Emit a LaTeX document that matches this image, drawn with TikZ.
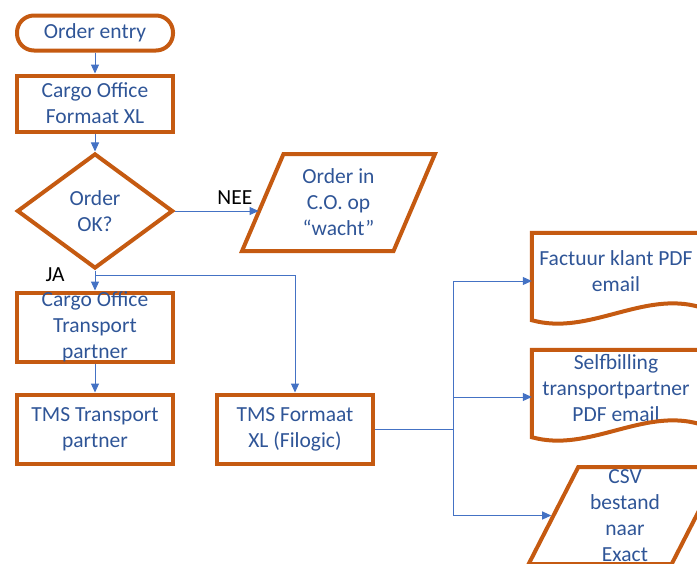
\documentclass[tikz,border=0pt]{standalone}
\usepackage{fontspec}
\setmainfont{Carlito}
\usetikzlibrary{shapes.geometric, arrows.meta, positioning, calc}
\definecolor{boxorange}{HTML}{C55A11}
\definecolor{txtblue}{HTML}{2F5597}
\definecolor{lineblue}{HTML}{4472C4}

\begin{document}
\begin{tikzpicture}[
    x=1pt, y=-1pt,
    every node/.style={font=\fontsize{21.5}{26}\selectfont},
    box/.style={rectangle, draw=boxorange, line width=4pt, text=txtblue, minimum width=156pt, minimum height=69pt, inner sep=0pt, align=center},
    term/.style={box, rounded corners=17pt, minimum height=35pt},
    decision/.style={diamond, draw=boxorange, line width=4pt, text=txtblue, minimum width=156pt, minimum height=115pt, inner sep=0pt, align=center},
    databox/.style={trapezium, trapezium left angle=68, trapezium right angle=112, trapezium stretches, draw=boxorange, line width=4pt, text=txtblue, minimum width=193pt, minimum height=97pt, inner sep=0pt, align=center},
    docbox/.style={rectangle, text=txtblue, minimum width=168pt, minimum height=76pt, inner sep=0pt, align=center},
    docline/.style={draw=boxorange, line width=4pt},
    arrow/.style={-{Triangle[length=9pt, width=8pt]}, lineblue, line width=1pt},
    line/.style={lineblue, line width=1pt},
    lbl/.style={text=black}
]

\useasboundingbox (0,0) rectangle (697,563);
\clip (0,0) rectangle (697,563);

% linker kolom
\node[term] (entry) at (95,33) {Order entry};
\node[box, minimum height=56pt, below=21pt of entry] (cargo) {Cargo Office\\Formaat XL};
\node[decision, below=18pt of cargo] (ok) {Order\\OK?};
\node[box, inner ysep=-4pt, below=20pt of ok] (cotp) {Cargo Office\\Transport\\partner};
\node[box, below=29pt of cotp] (tmstp) {TMS Transport\\partner};
\node[box, right=40pt of tmstp] (tmsxl) {TMS Formaat\\XL (Filogic)};

% wacht
\node[databox] (wacht) at (338.5,202.5) {Order in\\C.O. op\\“wacht”};

% uitvoer rechts
\node[docbox] (factuur) at (616,271) {Factuur klant PDF\\email};
\node[docbox] (selfb) at (616,388) {Selfbilling\\transportpartner\\PDF email};
\node[databox] (csv) at (625,515.5) {CSV\\bestand\\naar\\Exact};

\foreach \d in {factuur, selfb}
  \draw[docline] (\d.north west) -- (\d.north east) -- ([yshift=2pt]\d.south east)
    .. controls ([xshift=-57pt, yshift=19pt]\d.south east) and ([xshift=57pt, yshift=-27pt]\d.south west)
    .. ([yshift=-11pt]\d.south west) -- cycle;

\node[lbl] (ja) at (55,275) {JA};

% pijlen
\draw[arrow] (entry) -- (cargo);
\draw[arrow] (cargo) -- (ok);
\draw[arrow] (ok.south) -- (cotp.north);
\draw[arrow] (ok.south) -- ++(0,5) -| (tmsxl.north);
\draw[arrow] (cotp) -- (tmstp);
\draw[arrow, shorten >=2pt] (ok.east) -- (ok.east -| wacht.west) node[lbl, pos=0.7, above=3pt] {NEE};

\coordinate (split) at ($(tmsxl.east)+(78,0)$);
\draw[line] (tmsxl.east) -- (split);
\draw[arrow] (split) |- ([yshift=-10pt]factuur.west);
\draw[arrow] (split) |- ([yshift=-9pt]selfb.west);
\draw[arrow] (split) |- (csv.west);

\end{tikzpicture}
\end{document}
